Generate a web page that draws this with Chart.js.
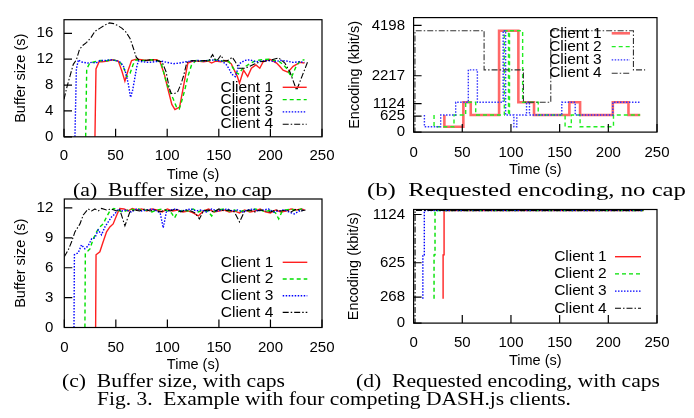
<!DOCTYPE html>
<html><head><meta charset="utf-8">
<script src="https://cdn.jsdelivr.net/npm/chart.js@4"></script>
<style>
html,body{margin:0;padding:0;background:#fff;}
#wrap{position:relative;width:694px;height:418px;overflow:hidden;background:#fff;}
canvas{position:absolute;left:0;top:0;}
.cap{position:absolute;left:0;top:0;white-space:nowrap;font-family:'Liberation Serif','Times New Roman',serif;font-size:18.5px;line-height:20px;color:#000;transform-origin:0 50%;}
</style></head><body>
<div id="wrap">
<canvas id="ca" width="694" height="418"></canvas>
<canvas id="cb" width="694" height="418"></canvas>
<canvas id="cc" width="694" height="418"></canvas>
<canvas id="cd" width="694" height="418"></canvas>
<div class="cap" id="capA">(a)&nbsp; Buffer size, no cap</div>
<div class="cap" id="capB">(b)&nbsp; Requested encoding, no cap</div>
<div class="cap" id="capC">(c)&nbsp; Buffer size, with caps</div>
<div class="cap" id="capD">(d)&nbsp; Requested encoding, with caps</div>
<div class="cap" id="capF">Fig. 3.&nbsp;&nbsp;Example with four competing DASH.js clients.</div>
</div>
<script>
// ---------- DATA ----------
const clientNames = ['Client 1', 'Client 2', 'Client 3', 'Client 4'];
const timeTicks = [0, 50, 100, 150, 200, 250];
const bufTicksNoCap = [0, 4, 8, 12, 16];
const bufTicksCap = [0, 3, 6, 9, 12];
const encTicksNoCap = [0, 625, 1124, 2217, 4198];
const encTicksCap = [0, 268, 625, 1124];

// (a) buffer size, no cap
const aT1 = [30,31,34,37,42,47,52.6,56,59,62,65.5,70,75,80,85,90,93,97,101,104.5,107.5,112,116,120,125,130,135,140,143,147,152,157,162,165,168,170,174,178,181.6,186,189.7,193,199.4,206,209,212.3,217,222,228.5,233];
const aV1 = [0,10.5,11.6,11.6,11.7,11.9,11.7,10.2,8.6,10.2,11.8,12.0,11.9,11.8,11.9,11.9,11.6,9.8,7.2,5.0,4.2,4.6,8.0,11.4,11.7,11.7,11.6,11.7,11.4,11.7,11.6,11.8,11.3,10.3,9.3,8.3,10.3,9.3,10.6,11.1,10.6,11.6,12.0,11.4,10.9,10.3,10.0,10.9,11.5,11.4];
const aT2 = [21,22,25,30,35,40,45,50,55,58,61,64,67,70,75,80,85,90,94,99.4,103,106,109,111.7,114,117,120,123.6,128,135,140,145,150,155,160,165.5,169,174,180,186,192,199,204,208,212,215.6,220.4,225,229,233];
const aV2 = [0,10.5,11.4,11.6,11.8,11.7,11.9,11.8,11.4,10.6,9.3,9.8,11.2,11.9,11.8,11.8,11.9,11.8,11.5,8.3,6.8,5.8,4.6,4.3,5.5,7.2,9.3,11.1,11.8,11.7,11.8,11.9,11.8,11.7,11.6,10.2,9.7,10.7,11.3,11.8,11.9,12.0,11.8,11.7,11.2,10.6,9.2,10.9,11.8,11.9];
const aT3 = [10.6,12,14,16,19,23,27,31,35,40,45,50,54,57.4,60,62.5,64.5,66.5,68.5,70.5,72,76,82,88,94,100,106,112,118,124,130,136,142,148,153,157,160,162.3,166,170,175,180,186,192,198,204,210,216,222,228,233];
const aV3 = [0,10.5,11.9,11.6,11.5,11.4,11.5,11.4,11.8,11.8,11.9,11.8,11.6,11.0,9.8,8.0,6.1,7.2,9.0,10.8,11.7,11.6,11.5,11.6,11.7,11.5,11.3,11.4,11.6,11.7,11.8,11.7,11.9,11.8,11.7,11.2,10.5,9.7,9.3,11.3,11.8,11.9,11.6,11.7,11.8,11.6,11.8,11.7,11.5,11.6,11.5];
const aT4 = [0,3,6,9,12,15,18,22,26,30,35,40,44,48,52,56,60,64,67,70,73,78,84,90,95,99,102,104,107,110,113.7,116,119,124,130,136,140,144,147,149,152,155,157,160,163,166,169.5,175,180,184,190,195,201,208,214,219,225.4,231,236.6];
const aV4 = [5.8,7.8,9.5,11.2,11.9,13.5,14.1,14.6,15.3,16.3,16.8,17.3,17.6,17.5,17.2,16.8,16.2,15.2,13.8,12.3,11.8,11.8,11.9,11.8,11.6,10.0,7.5,6.7,6.7,6.9,8.3,9.5,11.5,11.8,11.7,11.8,11.7,12.7,11.8,11.9,12.6,11.8,11.7,11.9,12.3,11.6,10.6,10.6,10.9,11.2,11.6,11.7,11.9,12.2,11.4,10.0,7.2,9.5,11.8];

// (b) requested encoding, no cap (kbit/s, value taken from time t on)
const bT1 = [31.6,31.6,51.1,58.7,87.8,107.6,123.7,160,171,204.6,220.7,232.7];
const bV1 = [670,210,1175,670,3990,1175,670,1175,670,1175,670,670];
const bT2 = [21,21,41.5,53.5,63.8,93.2,97.5,98.5,112,128,155.6,162,171,205.3,232.7];
const bV2 = [670,210,670,1175,670,3990,670,3990,1175,670,210,670,210,670,670];
const bT3 = [11.1,11.1,27.8,43.2,56.2,65.5,92,94.5,103,106,116,119,152.2,166,204.6,232.7];
const bV3 = [670,210,670,1175,2450,1175,3990,670,210,670,1175,670,1175,670,1175,1175];
const bT4 = [0,1.4,72.4,112.8,140.9,225.8,237.8];
const bV4 = [0,3990,2450,1175,3990,2450,2450];

// (c) buffer size, with caps
const cT1 = [30.4,30.8,34.5,37.7,41,44.2,47.4,51.3,53.9,58,62,66,70,75,80,85,90,95,100,105,110,115,120,125,130,135,140,145,150,155,160,165,170,175,180,185,190,195,200,205,210,215,220,225,230,233];
const cV1 = [0,7.3,7.6,8.6,9.6,10.1,10.4,11.4,11.95,11.9,11.7,11.95,11.8,11.9,11.7,11.9,11.8,11.6,11.9,11.7,11.8,11.6,11.7,11.5,11.2,11.7,11.9,11.6,11.7,11.8,11.6,11.7,11.5,11.8,11.6,11.7,11.9,11.6,11.5,11.8,11.6,11.7,11.9,11.8,11.9,11.8];
const cT2 = [20,20.4,24.9,28.1,31.3,34.5,37.7,41,44.2,48,52,56,60,64,68,72,76,80,85,90,95,100,104,107,110,115,120,125,130,135,140,143,146,150,155,160,165,170,175,180,185,190,195,200,205,208,211,215,220,225,230,233];
const cV2 = [0,7.4,7.9,8.9,9.6,10.1,10.4,11.1,11.7,11.95,11.8,11.6,11.7,11.9,11.8,11.9,11.7,11.8,11.6,11.8,11.9,11.7,11.5,11.0,11.6,11.8,11.7,11.9,11.6,11.8,11.6,11.2,11.7,11.8,11.9,11.7,11.8,11.6,11.8,11.7,11.9,11.8,11.6,11.8,11.5,10.9,11.6,11.8,11.9,11.7,11.9,11.8];
const cT3 = [9.4,9.8,13.5,16.7,19.9,23.2,26.5,29.7,32.9,36.1,39.4,42.6,45.8,49,52.2,56,60,65,70,75,80,85,90,93,96,99,103,108,113,118,123,128,133,138,143,148,153,158,163,168,173,178,183,188,193,198,203,208,213,218,223,228,233];
const cV3 = [0,7.3,7.5,8.3,7.9,8.2,8.9,9.0,9.8,9.3,10.1,10.6,11.1,11.4,11.9,11.7,11.8,11.6,11.9,11.7,11.8,11.9,11.7,11.5,10.0,11.6,11.8,11.9,11.7,11.8,11.9,11.7,11.8,11.6,11.9,11.7,11.8,11.9,11.7,11.8,11.6,11.8,11.9,11.7,11.8,11.9,11.6,11.7,11.8,11.6,11.4,11.7,11.8];
const cT4 = [0,3.9,7.1,10.3,15.2,18.4,23.2,26.5,29.7,32.9,36.2,41,45.8,50.7,53.9,58.8,63.6,68,73,78,83,88,93,98,103,108,113,118,123,127,131,135,140,145,150,155,160,165,170,175,180,185,190,195,200,205,210,215,220,225,230,234];
const cV4 = [7.1,7.8,8.6,9.6,10.4,11.3,11.9,11.7,11.9,11.7,11.95,11.8,11.9,11.7,11.8,10.2,11.6,11.8,11.7,11.9,11.7,11.8,11.6,11.8,11.7,11.9,11.6,11.8,11.7,11.5,10.9,11.7,11.8,11.6,11.9,11.7,11.8,11.6,10.6,11.7,11.8,11.6,11.8,11.7,11.6,11.8,11.7,11.8,11.6,11.9,11.7,11.8];

// (d) requested encoding, with caps
const dT1 = [30.3,30.3,31.3,236];
const dV1 = [251,706,1166,1166];
const dT2 = [21,21,22,236];
const dV2 = [251,706,1166,1166];
const dT3 = [9.5,9.5,11,236];
const dV3 = [251,706,1166,1166];
const dT4 = [0,1.5,236];
const dV4 = [0,1166,1166];

// ---------- RENDERING ----------
Chart.defaults.font.family = "'Liberation Sans', Arial, sans-serif";
Chart.defaults.color = '#000';

function pts(t, v) { return t.map((x, i) => ({x: x, y: v[i]})); }

function styleFor(i, heavy) {
  const s = [
    {borderColor: heavy ? 'rgba(255,40,40,0.7)' : '#ff2020', borderWidth: heavy ? 2.6 : 1.4, borderDash: []},
    {borderColor: heavy ? '#22ee22' : '#00e000', borderWidth: 1.4, borderDash: [4, 3]},
    {borderColor: heavy ? '#3030ff' : '#0000ff', borderWidth: 1.4, borderDash: [1.5, 1.5]},
    {borderColor: heavy ? '#333' : '#000', borderWidth: 1.1, borderDash: [6, 2, 1.5, 2]}
  ];
  return s[i];
}

const framePlugin = {
  id: 'frame',
  afterDatasetsDraw(chart) {
    const {ctx, chartArea: a, scales} = chart;
    ctx.save();
    ctx.strokeStyle = '#000';
    ctx.lineWidth = 1.2;
    ctx.setLineDash([]);
    ctx.strokeRect(a.left, a.top, a.right - a.left, a.bottom - a.top);
    ctx.beginPath();
    scales.x.ticks.forEach(t => {
      const px = scales.x.getPixelForValue(t.value);
      ctx.moveTo(px, a.bottom); ctx.lineTo(px, a.bottom - 8);
    });
    scales.y.ticks.forEach(t => {
      const py = scales.y.getPixelForValue(t.value);
      ctx.moveTo(a.left, py); ctx.lineTo(a.left + 8, py);
    });
    ctx.stroke();
    ctx.restore();
  }
};

const keyPlugin = {
  id: 'key',
  afterDraw(chart, args, o) {
    const ctx = chart.ctx;
    ctx.save();
    ctx.font = o.size + "px 'Liberation Sans', Arial, sans-serif";
    ctx.textAlign = 'right';
    ctx.textBaseline = 'middle';
    chart.data.datasets.forEach((ds, i) => {
      const y = o.y0 + i * o.dy;
      ctx.fillStyle = '#000';
      ctx.fillText(ds.label, o.textRight, y);
      ctx.beginPath();
      ctx.strokeStyle = ds.borderColor;
      ctx.lineWidth = ds.borderWidth;
      ctx.setLineDash(ds.borderDash || []);
      ctx.moveTo(o.sx1, y); ctx.lineTo(o.sx2, y);
      ctx.stroke();
    });
    ctx.restore();
  }
};

function makeChart(id, series, opt) {
  const datasets = series.map((s, i) => Object.assign({
    label: clientNames[i],
    data: pts(s[0], s[1]),
    pointRadius: 0,
    tension: 0,
    fill: false,
    stepped: opt.stepped ? 'before' : false,
    order: 4 - i
  }, styleFor(i, opt.heavy)));
  return new Chart(document.getElementById(id), {
    type: 'line',
    data: {datasets: datasets},
    plugins: [framePlugin, keyPlugin],
    options: {
      responsive: false,
      animation: false,
      events: [],
      layout: {padding: opt.pad},
      plugins: {legend: {display: false}, tooltip: {enabled: false}, key: opt.key},
      scales: {
        x: {
          type: 'linear', min: 0, max: 250,
          grid: {display: false, drawTicks: false},
          border: {display: false},
          ticks: {font: {size: 15}, padding: opt.xTickPad, autoSkip: false, maxRotation: 0, color: '#000', callback: v => String(v)},
          title: {display: true, text: 'Time (s)', font: {size: 14.5}, padding: 0, color: '#000'},
          afterBuildTicks: sc => { sc.ticks = timeTicks.map(v => ({value: v})); },
          afterFit: sc => { sc.height = opt.xH; }
        },
        y: {
          type: 'linear', min: 0, max: opt.yMax,
          grid: {display: false, drawTicks: false},
          border: {display: false},
          ticks: {font: {size: 15}, padding: opt.yTickPad, autoSkip: false, color: '#000', callback: v => String(v)},
          title: {display: true, text: opt.yTitle, font: {size: 14.5}, padding: 0, color: '#000'},
          afterBuildTicks: sc => { sc.ticks = opt.yTicks.map(v => ({value: v})); },
          afterFit: sc => { sc.width = opt.yW; }
        }
      }
    }
  });
}

makeChart('ca', [[aT1, aV1], [aT2, aV2], [aT3, aV3], [aT4, aV4]], {
  pad: {left: 12, top: 6, right: 372, bottom: 234.6}, yW: 52, xH: 46.6,
  yTickPad: 10.7, xTickPad: 10, yMax: 18.1, yTicks: bufTicksNoCap, yTitle: 'Buffer size (s)',
  key: {size: 15.5, textRight: 273, sx1: 282.7, sx2: 306.7, y0: 87.3, dy: 12.3}
});
makeChart('cb', [[bT1, bV1], [bT2, bV2], [bT3, bV3], [bT4, bV4]], {
  stepped: true, heavy: true,
  pad: {left: 346.3, top: 11, right: 37, bottom: 238.9}, yW: 67.3, xH: 47,
  yTickPad: 8.6, xTickPad: 12, yMax: 4506, yTicks: encTicksNoCap, yTitle: 'Encoding (kbit/s)',
  key: {size: 15.5, textRight: 601.7, sx1: 611.7, sx2: 630, y0: 33.3, dy: 13.3}
});
makeChart('cc', [[cT1, cV1], [cT2, cV2], [cT3, cV3], [cT4, cV4]], {
  pad: {left: 12, top: 199, right: 372, bottom: 44.6}, yW: 52.3, xH: 45.9,
  yTickPad: 11, xTickPad: 11, yMax: 12.9, yTicks: bufTicksCap, yTitle: 'Buffer size (s)',
  key: {size: 15.5, textRight: 273.3, sx1: 282.7, sx2: 307.3, y0: 262.3, dy: 16.7}
});
makeChart('cd', [[dT1, dV1], [dT2, dV2], [dT3, dV3], [dT4, dV4]], {
  stepped: true,
  pad: {left: 345.6, top: 209.5, right: 37, bottom: 47.9}, yW: 68, xH: 47,
  yTickPad: 8.6, xTickPad: 11, yMax: 1176, yTicks: encTicksCap, yTitle: 'Encoding (kbit/s)',
  key: {size: 15.5, textRight: 606.7, sx1: 615, sx2: 641, y0: 256.7, dy: 17.2}
});

// captions fitted to their spans in the figure
[
  {id: 'capA', l: 73, r: 272, cy: 190},
  {id: 'capB', l: 367, r: 686, cy: 190},
  {id: 'capC', l: 62, r: 285, cy: 381},
  {id: 'capD', l: 356, r: 660, cy: 381},
  {id: 'capF', l: 97, r: 571, cy: 398.5}
].forEach(c => {
  const el = document.getElementById(c.id);
  const w = el.getBoundingClientRect().width;
  const h = el.offsetHeight;
  el.style.left = c.l + 'px';
  el.style.top = (c.cy - h / 2) + 'px';
  el.style.transform = 'scaleX(' + ((c.r - c.l) / w) + ')';
});
</script>
</body></html>
